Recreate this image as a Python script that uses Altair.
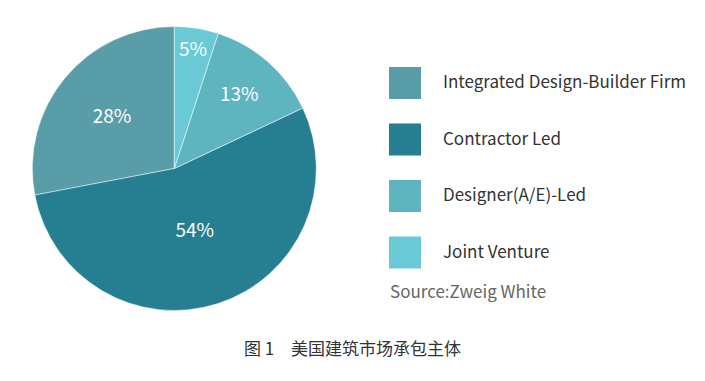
import altair as alt
import pandas as pd

categories = ["Integrated Design-Builder Firm", "Contractor Led", "Designer(A/E)-Led", "Joint Venture"]
shares = [28, 54, 13, 5]
pie_order = [4, 3, 2, 1]
labels = ["28%", "54%", "13%", "5%"]
colors = ["#589DA8", "#267F91", "#5EB5BF", "#69CAD5"]
source_note = ["Source:Zweig White"]
caption = "图 1　美国建筑市场承包主体"

FONT = "Noto Sans CJK SC"

df = pd.DataFrame({"category": categories, "share": shares, "order": pie_order, "label": labels})

base = alt.Chart(df).encode(
    theta=alt.Theta("share:Q", stack=True),
    order=alt.Order("order:Q"),
    x=alt.value(166.3),
    y=alt.value(160.5),
)

arc = base.mark_arc(radius=142, stroke="#ffffff", strokeWidth=0.5).encode(
    color=alt.Color(
        "category:N",
        scale=alt.Scale(domain=categories, range=colors),
        legend=alt.Legend(
            title=None,
            orient="none",
            legendX=381,
            legendY=59,
            symbolType="square",
            symbolSize=1024,
            symbolStrokeWidth=0,
            symbolOpacity=1,
            labelFontSize=17,
            labelFont=FONT,
            labelColor="#333333",
            labelOffset=22,
            rowPadding=24.5,
            padding=0,
            labelLimit=400,
        ),
    )
)

text = base.mark_text(fontSize=19, font=FONT, color="#ffffff").encode(
    text="label:N",
    radius=alt.Radius("share:Q", scale=alt.Scale(type="log", domain=[5, 54], range=[120, 66], zero=False)),
)

src = alt.Chart(pd.DataFrame({"t": source_note})).mark_text(
    align="left", baseline="alphabetic", fontSize=17, font=FONT, color="#666666"
).encode(text="t:N", x=alt.value(382), y=alt.value(290))

chart = alt.layer(arc, text, src).properties(
    width=689,
    height=321,
    padding={"left": 0, "top": 0, "right": 0, "bottom": 44},
    autosize="none",
    title=alt.TitleParams(
        caption, orient="bottom", anchor="middle", offset=13,
        fontSize=17, font=FONT, fontWeight="normal", color="#333333", baseline="top",
    ),
).configure_view(stroke=None)

chart.save("out.html", embed_options={"renderer": "svg", "actions": False})
